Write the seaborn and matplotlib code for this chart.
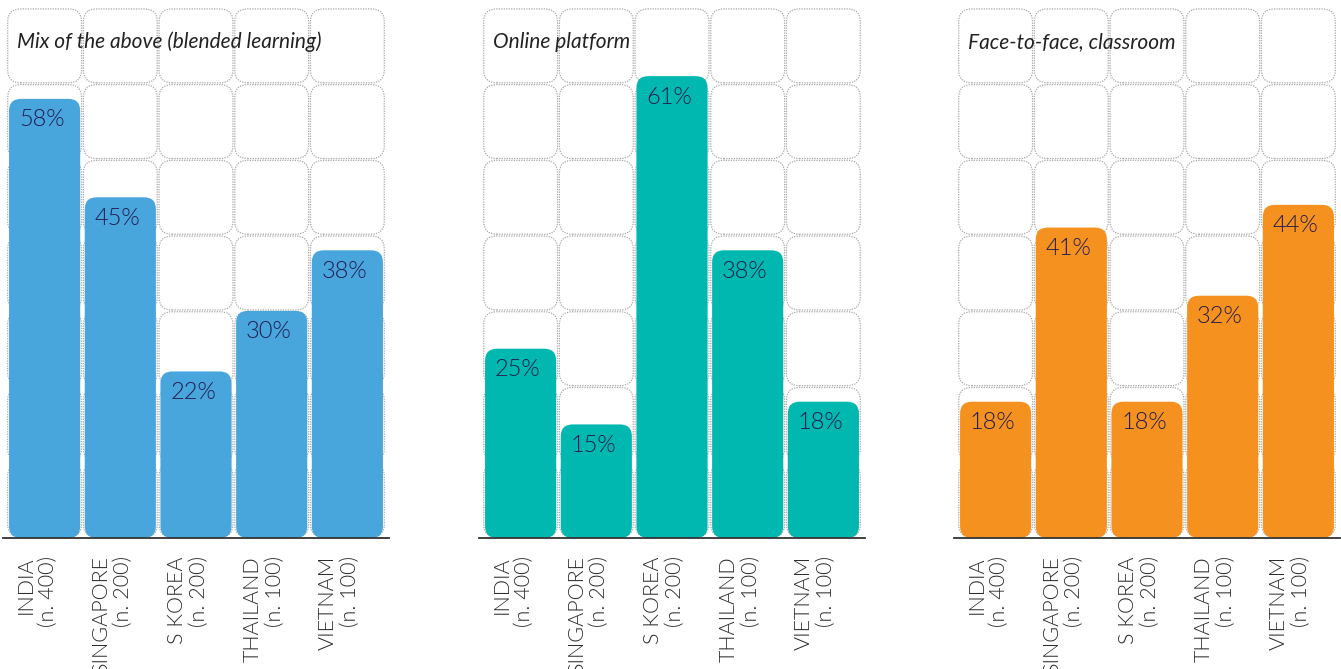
import numpy as np
import pandas as pd
import matplotlib
matplotlib.use("Agg")
import matplotlib.pyplot as plt
import matplotlib.transforms as mtransforms
from matplotlib.patches import FancyBboxPatch
import seaborn as sns

# ---------------- data ----------------
countries = ["INDIA\n(n. 400)", "SINGAPORE\n(n. 200)", "S KOREA\n(n. 200)",
             "THAILAND\n(n. 100)", "VIETNAM\n(n. 100)"]
titles = ["Mix of the above (blended learning)", "Online platform", "Face-to-face, classroom"]
blended = [58, 45, 22, 30, 38]
online = [25, 15, 61, 38, 18]
face_to_face = [18, 41, 18, 32, 44]
series = [blended, online, face_to_face]
colors = ["#48A6DD", "#00B8AF", "#F5911F"]

sns.set_theme(style="white")
plt.rcParams['font.family'] = ['Lato', 'DejaVu Sans']

W, H = 1341, 669
fig = plt.figure(figsize=(W / 100, H / 100), dpi=100)

lefts_px = [3, 479, 954]
ax_w_px = 386
base_px = 538
top_px = 8
YMAX = 70
XLIM = (-0.55, 4.55)

px_x = ax_w_px / (XLIM[1] - XLIM[0])
px_y = (base_px - top_px) / YMAX
aspect = px_x / px_y

for k in range(3):
    ax = fig.add_axes([lefts_px[k] / W, (H - base_px) / H, ax_w_px / W, (base_px - top_px) / H])
    df = pd.DataFrame({"country": countries, "value": series[k]})
    sns.barplot(data=df, x="country", y="value", color=colors[k], saturation=1,
                width=0.94, ax=ax, errorbar=None)
    ax.set_xlim(*XLIM)
    ax.set_ylim(0, YMAX)

    # background grid of rounded dotted cells
    gx, gy = 0.012, 0.12
    rc = 13 / px_x
    for i in range(len(countries)):
        for j in range(YMAX // 10):
            cell = FancyBboxPatch((i - 0.5 + gx, j * 10 + gy), 1 - 2 * gx, 10 - 2 * gy,
                                  boxstyle=f"round,pad=0,rounding_size={rc}",
                                  mutation_aspect=aspect, fc="none", ec="#A8A8A8",
                                  lw=0.9, ls=(0, (1, 1)), zorder=1, clip_on=False)
            ax.add_patch(cell)

    # rounded bars replacing seaborn rectangles
    rb = 12 / px_x
    for p in list(ax.patches):
        if isinstance(p, FancyBboxPatch):
            continue
        x, w, h = p.get_x(), p.get_width(), p.get_height()
        p.set_visible(False)
        bar = FancyBboxPatch((x, 0), w, h, boxstyle=f"round,pad=0,rounding_size={rb}",
                             mutation_aspect=aspect, fc=colors[k], ec="none", zorder=3)
        ax.add_patch(bar)
        ax.annotate(f"{h:.0f}%", xy=(x + w / 2, h), xytext=(-2, -7.5),
                    textcoords="offset points", ha="center", va="top",
                    fontsize=17, fontweight=300, color="#221B4F", zorder=4)

    ax.text(XLIM[0] + 14 / px_x, (base_px - 42) / px_y, titles[k], fontstyle="italic",
            fontsize=15, color="#222222", va="center", ha="left", zorder=5)

    for s in ["top", "right", "left"]:
        ax.spines[s].set_visible(False)
    ax.spines["bottom"].set_color("#333333")
    ax.spines["bottom"].set_linewidth(1.3)
    ax.spines["bottom"].set_zorder(6)
    ax.set_yticks([])
    ax.set_xlabel("")
    ax.set_ylabel("")
    ax.tick_params(axis="x", length=0, pad=13)
    offset = mtransforms.ScaledTranslation(-8 / 100, 0, fig.dpi_scale_trans)
    for lab in ax.get_xticklabels():
        lab.set_rotation(90)
        lab.set_ha("center")
        lab.set_va("top")
        lab.set_multialignment("right")
        lab.set_fontsize(15.5)
        lab.set_fontweight(300)
        lab.set_color("#2A2A2A")
        lab.set_linespacing(1.15)
        lab.set_transform(lab.get_transform() + offset)

fig.savefig("out.png", dpi=100)
